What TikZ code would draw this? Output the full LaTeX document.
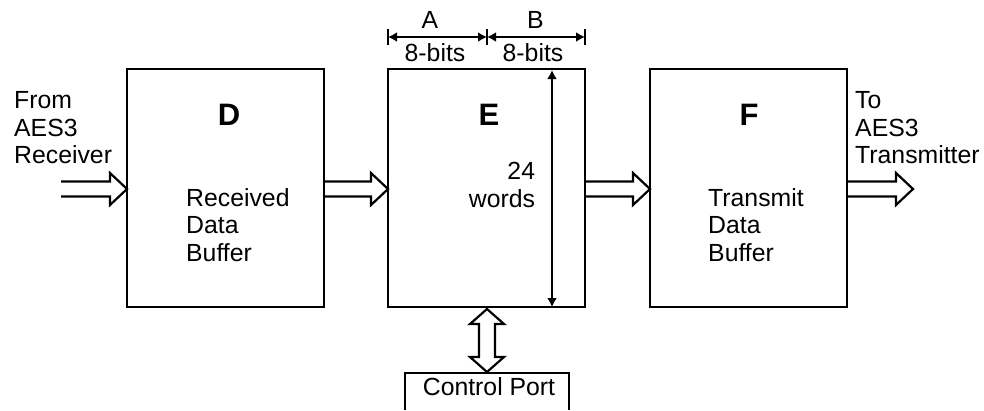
\documentclass[tikz,border=0pt]{standalone}
\usepackage{fontspec}
\setmainfont{Liberation Sans}
\usetikzlibrary{arrows.meta,calc}
\tikzset{
  x=1pt,y=-1pt,
  block/.style={draw=black,line width=2.3pt,minimum width=197pt,minimum height=238pt,inner sep=0pt,outer sep=0pt,anchor=north west},
  txt/.style={font=\fontsize{24.8}{27.5}\selectfont,inner sep=0pt,align=left},
  title/.style={font=\fontsize{31}{34}\selectfont\bfseries,inner sep=0pt},
  lines/.style={draw=black,line width=2.2pt,line join=miter},
  dim/.style={draw=black,line width=1.8pt,{Latex[length=9pt,width=10pt]}-{Latex[length=9pt,width=10pt]}},
  tick/.style={draw=black,line width=1.8pt}
}
% hollow arrow running right from #1 to #2 (same height)
\newcommand{\hollowright}[2]{%
  \draw[lines] let \p1=(#1),\p2=(#2) in
    (\x1,\y1+7.5pt) -- (\x2-17pt,\y1+7.5pt) -- (\x2-17pt,\y1+16pt) -- (\x2,\y1)
    -- (\x2-17pt,\y1-16pt) -- (\x2-17pt,\y1-7.5pt) -- (\x1,\y1-7.5pt);}
\begin{document}
\begin{tikzpicture}
\useasboundingbox (0,0) rectangle (984,410);
% blocks
\node[block] (D) at (127,69) {};
\node[block] (E) at (388,69) {};
\node[block] (F) at (650,69) {};
% control port (cut off by the lower edge)
\coordinate (cpl) at (405,410);
\coordinate (cpr) at (569,410);
\coordinate (cptop) at (487,373);
\draw[lines] (cpl) -- (cpl |- cptop) -- (cpr |- cptop) -- (cpr);
\node[txt,anchor=center] (cp) at (489,387) {Control Port};
% hollow arrows
\coordinate (in) at (61,189);
\coordinate (out) at (913,189);
\coordinate (Din) at (D.west |- in);
\coordinate (Dout) at (D.east |- in);
\coordinate (Ein) at (E.west |- in);
\coordinate (Eout) at (E.east |- in);
\coordinate (Fin) at (F.west |- in);
\coordinate (Fout) at (F.east |- in);
\hollowright{in}{Din}
\hollowright{Dout}{Ein}
\hollowright{Eout}{Fin}
\hollowright{Fout}{out}
% two-way hollow arrow
\coordinate (bt) at (487,309);
\coordinate (bb) at (487,372);
\draw[lines,fill=white] let \p1=(bt),\p2=(bb) in
  (\x1,\y1) -- (\x1+17pt,\y1-15pt) -- (\x1+8pt,\y1-15pt) -- (\x1+8pt,\y2+15pt)
  -- (\x1+17pt,\y2+15pt) -- (\x1,\y2) -- (\x1-17pt,\y2+15pt) -- (\x1-8pt,\y2+15pt)
  -- (\x1-8pt,\y1-15pt) -- (\x1-17pt,\y1-15pt) -- cycle;
% dimensions
\coordinate (da) at (388,37);
\coordinate (db) at (487,37);
\coordinate (dc) at (585,37);
\draw[tick] (388,29) -- (388,45);
\draw[tick] (487,29) -- (487,45);
\draw[tick] (585,29) -- (585,45);
\draw[dim] (da) -- (db);
\draw[dim] (db) -- (dc);
\coordinate (vt) at (552,70);
\coordinate (vb) at (552,307);
\draw[dim] (vt) -- (vb);
% text
\node[txt,anchor=center] (la) at (430,20) {A};
\node[txt,anchor=center] (lb) at (535.5,20) {B};
\node[txt,anchor=center] (w1) at (435,52.5) {8-bits};
\node[txt,anchor=center] (w2) at (533,52.5) {8-bits};
\node[title] (tD) at (229,115) {D};
\node[title] (tE) at (489,115) {E};
\node[title] (tF) at (749,115) {F};
\node[txt,anchor=west] (from) at (14,128) {From\\AES3\\Receiver};
\node[txt,anchor=west] (to) at (855,128) {To\\AES3\\Transmitter};
\node[txt,anchor=west] (rx) at (186,225) {Received\\Data\\Buffer};
\node[txt,anchor=west] (tx) at (708,225) {Transmit\\Data\\Buffer};
\node[txt,anchor=center,align=right] (wd) at (502,185) {24\\words};
\end{tikzpicture}
\end{document}
